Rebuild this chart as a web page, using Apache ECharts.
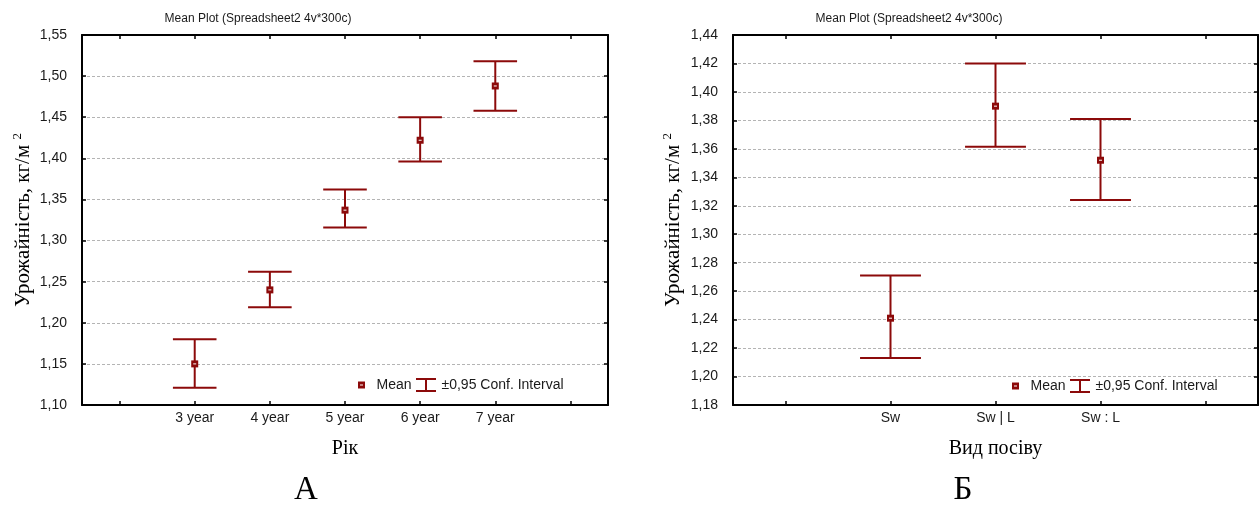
<!DOCTYPE html>
<html>
<head>
<meta charset="utf-8">
<script src="https://cdn.jsdelivr.net/npm/echarts@6/dist/echarts.min.js"></script>
<style>
  html, body { margin: 0; padding: 0; background: #fff; }
  #chart { width: 1259px; height: 505px; }
</style>
</head>
<body>
<div id="chart"></div>
<script>
// Panel А: yield by year (mean and 95% confidence limits)
const yearLabels = ['3 year', '4 year', '5 year', '6 year', '7 year'];
const yearMean = [1.150, 1.240, 1.337, 1.422, 1.488];
const yearLow  = [1.121, 1.219, 1.316, 1.396, 1.458];
const yearHigh = [1.180, 1.262, 1.362, 1.450, 1.518];
const yearAxisMin = 1.10, yearAxisMax = 1.55, yearAxisStep = 0.05;

// Panel Б: yield by sowing type
const sowLabels = ['Sw', 'Sw | L', 'Sw : L'];
const sowMean = [1.241, 1.390, 1.352];
const sowLow  = [1.213, 1.3615, 1.324];
const sowHigh = [1.271, 1.420, 1.381];
const sowAxisMin = 1.18, sowAxisMax = 1.44, sowAxisStep = 0.02;

const plotTitle = 'Mean Plot (Spreadsheet2 4v*300c)';
const yName = 'Урожайність, кг/м {s|2}';

const RED = '#8c0a0a';
const SANS = 'Liberation Sans, Arial, sans-serif';
const SERIF = 'Liberation Serif, Times New Roman, serif';

// one empty slot on each side of the categories
const padCats = labels => ['', ...labels, ''];

function renderBar(params, api) {
  const x = api.value(0);
  const lo = api.coord([x, api.value(1)]);
  const hi = api.coord([x, api.value(2)]);
  const half = api.size([1, 0])[0] * 0.29;
  const st = { stroke: RED, lineWidth: 2 };
  return {
    type: 'group',
    children: [
      { type: 'line', shape: { x1: lo[0], y1: lo[1], x2: hi[0], y2: hi[1] }, style: st },
      { type: 'line', shape: { x1: hi[0] - half, y1: hi[1], x2: hi[0] + half, y2: hi[1] }, style: st },
      { type: 'line', shape: { x1: lo[0] - half, y1: lo[1], x2: lo[0] + half, y2: lo[1] }, style: st }
    ]
  };
}

function renderMean(params, api) {
  const p = api.coord([api.value(0), api.value(1)]);
  return {
    type: 'group',
    children: [
      { type: 'rect', shape: { x: p[0] - 3.5, y: p[1] - 3.5, width: 7, height: 7 }, style: { fill: RED } },
      { type: 'rect', shape: { x: p[0] - 1.5, y: p[1] - 0.5, width: 3, height: 1 }, style: { fill: '#fff' } }
    ]
  };
}

const frameLine = { show: true, onZero: false, lineStyle: { color: '#000', width: 2 } };
const innerTick = { show: true, inside: true, length: 4, lineStyle: { color: '#000', width: 1.5 } };
const tickFont = { fontFamily: SANS, fontSize: 14, color: '#1a1a1a' };
const fmt = v => v.toFixed(2).replace('.', ',');

function xAxes(gridIndex, labels, name) {
  const cats = padCats(labels);
  return [
    {
      type: 'category', gridIndex, data: cats, position: 'bottom', boundaryGap: true,
      axisLine: frameLine, axisTick: Object.assign({ alignWithLabel: true }, innerTick),
      axisLabel: Object.assign({ margin: 6, interval: 0 }, tickFont),
      splitLine: { show: false },
      name, nameLocation: 'middle', nameGap: 34,
      nameTextStyle: { fontFamily: SERIF, fontSize: 20, color: '#000' }
    },
    {
      type: 'category', gridIndex, data: cats, position: 'top', boundaryGap: true,
      axisLine: frameLine, axisTick: Object.assign({ alignWithLabel: true }, innerTick),
      axisLabel: { show: false }, splitLine: { show: false }
    }
  ];
}

function yAxes(gridIndex, min, max, step, gap) {
  return [
    {
      type: 'value', gridIndex, min, max, interval: step, position: 'left',
      axisLine: frameLine, axisTick: innerTick,
      axisLabel: Object.assign({ margin: 15, formatter: fmt }, tickFont),
      splitLine: { show: true, lineStyle: { color: '#b4b4b4', width: 1, type: [3, 2] } },
      name: yName, nameLocation: 'middle', nameGap: gap, nameRotate: 90,
      nameTextStyle: {
        fontFamily: SERIF, fontSize: 21, color: '#000',
        rich: { s: { fontFamily: SERIF, fontSize: 13, color: '#000', verticalAlign: 'top', padding: [0, 0, 11, 0] } }
      }
    },
    {
      type: 'value', gridIndex, min, max, interval: step, position: 'right',
      axisLine: frameLine, axisTick: innerTick,
      axisLabel: { show: false }, splitLine: { show: false }
    }
  ];
}

function legendGraphic(x, y) {
  // x: centre of the mean square, y: vertical centre of the row
  const st = { stroke: RED, lineWidth: 2 };
  const bx = x + 64.5;
  return [
    { type: 'rect', shape: { x: x - 3.5, y: y - 3.5, width: 7, height: 7 }, style: { fill: RED } },
    { type: 'rect', shape: { x: x - 1.5, y: y - 0.5, width: 3, height: 1 }, style: { fill: '#fff' } },
    { type: 'text', x: x + 15, y: y, style: { text: 'Mean', font: '14px ' + SANS, fill: '#1a1a1a', verticalAlign: 'middle' } },
    { type: 'line', shape: { x1: bx - 10, y1: y - 6, x2: bx + 10, y2: y - 6 }, style: st },
    { type: 'line', shape: { x1: bx - 10, y1: y + 6, x2: bx + 10, y2: y + 6 }, style: st },
    { type: 'line', shape: { x1: bx, y1: y - 6, x2: bx, y2: y + 6 }, style: st },
    { type: 'text', x: bx + 15.5, y: y, style: { text: '±0,95 Conf. Interval', font: '14px ' + SANS, fill: '#1a1a1a', verticalAlign: 'middle' } }
  ];
}

const option = {
  backgroundColor: '#fff',
  animation: false,
  grid: [
    { left: 82, top: 35, width: 526, height: 370 },
    { left: 733, top: 35, width: 525, height: 370 }
  ],
  xAxis: [...xAxes(0, yearLabels, 'Рік'), ...xAxes(1, sowLabels, 'Вид посіву')],
  yAxis: [
    ...yAxes(0, yearAxisMin, yearAxisMax, yearAxisStep, 47),
    ...yAxes(1, sowAxisMin, sowAxisMax, sowAxisStep, 48)
  ],
  series: [
    {
      type: 'custom', name: '±0,95 Conf. Interval', xAxisIndex: 0, yAxisIndex: 0,
      renderItem: renderBar, data: yearLabels.map((_, i) => [i + 1, yearLow[i], yearHigh[i]])
    },
    {
      type: 'custom', name: 'Mean', xAxisIndex: 0, yAxisIndex: 0,
      renderItem: renderMean, data: yearLabels.map((_, i) => [i + 1, yearMean[i]])
    },
    {
      type: 'custom', name: '±0,95 Conf. Interval', xAxisIndex: 2, yAxisIndex: 2,
      renderItem: renderBar, data: sowLabels.map((_, i) => [i + 1, sowLow[i], sowHigh[i]])
    },
    {
      type: 'custom', name: 'Mean', xAxisIndex: 2, yAxisIndex: 2,
      renderItem: renderMean, data: sowLabels.map((_, i) => [i + 1, sowMean[i]])
    }
  ],
  graphic: [
    { type: 'text', x: 258, y: 19, style: { text: plotTitle, font: '12px ' + SANS, fill: '#1a1a1a', align: 'center', verticalAlign: 'middle' } },
    { type: 'text', x: 909, y: 19, style: { text: plotTitle, font: '12px ' + SANS, fill: '#1a1a1a', align: 'center', verticalAlign: 'middle' } },
    ...legendGraphic(361.5, 385),
    ...legendGraphic(1015.5, 386),
    { type: 'text', x: 306, y: 490, style: { text: 'А', font: '33px ' + SERIF, fill: '#000', align: 'center', verticalAlign: 'middle' } },
    { type: 'text', x: 963, y: 490, style: { text: 'Б', font: '33px ' + SERIF, fill: '#000', align: 'center', verticalAlign: 'middle' } }
  ]
};

const chart = echarts.init(document.getElementById('chart'), null, { renderer: 'canvas' });
chart.setOption(option);
</script>
</body>
</html>
